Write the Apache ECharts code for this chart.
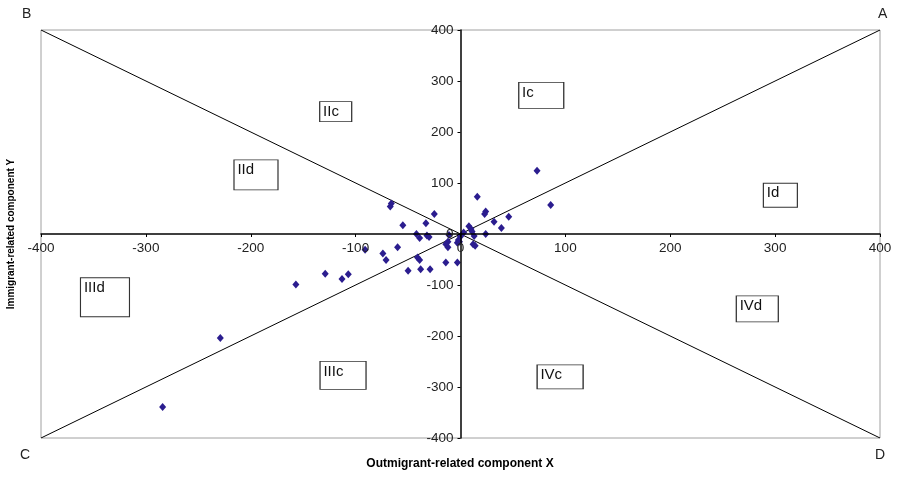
<!DOCTYPE html>
<html>
<head>
<meta charset="utf-8">
<script src="https://cdn.jsdelivr.net/npm/echarts@6/dist/echarts.min.js"></script>
<style>html,body{margin:0;padding:0;background:#fff;}#chart{width:898px;height:477px;}</style>
</head>
<body>
<div id="chart"></div>
<script>
// Data points: [X outmigrant component, Y immigrant component]
var pointsX = [73, 86, 16, 24, 23, 32, 46, 39, 24, 8, 10, 11, 3, 13, 12, 14,
  -2, -3, -1, -3, -14, -12, -14, -12, -11, 0,
  -25, -33, -42, -39, -32, -30, -55, -67, -66, -60, -74, -71, -41, -39, -50, -38, -29,
  -91, -113, -107, -129, -157, -229, -284];
var pointsY = [124, 57, 73, 44, 39, 24, 34, 12, 0, 15, 10, 5, 3, -4, -20, -23,
  -12, -17, -15, -56, -56, -15, -20, -26, -2, -5,
  39, 21, 0, -8, -3, -6, 17, 54, 60, -26, -38, -51, -46, -51, -72, -69, -69,
  -31, -88, -79, -78, -99, -204, -339];

// Diagonal reference lines (corner to corner)
var diagAX = [-400, 400], diagAY = [400, -400];
var diagBX = [-400, 400], diagBY = [-400, 400];

// Region labels and their anchor positions (data units)
var regionNames = ['IIc', 'Ic', 'IId', 'Id', 'IIId', 'IVd', 'IIIc', 'IVc'];
var regionX = [-119, 77, -195, 305, -339, 283, -112, 95];
var regionY = [240, 272, 116, 76, -124, -147, -277, -280];

var cornerLabels = ['A', 'B', 'C', 'D'];
var axisTicks = [-400, -300, -200, -100, 0, 100, 200, 300, 400];

var boxSizes = [[32, 20], [45, 26], [44, 30], [34, 24], [49, 39], [42, 26], [46, 28], [46, 24]];

var W = 898, H = 477, GL = 41, GR = 18, GT = 30, GB = 39;

var chart = echarts.init(document.getElementById('chart'), null, {renderer: 'canvas'});

var scatterData = pointsX.map(function (x, i) { return [x, pointsY[i]]; });
var boxData = regionNames.map(function (n, i) {
  return {value: [regionX[i], regionY[i]], name: n, symbolSize: boxSizes[i]};
});

var font = 'Arial, "Liberation Sans", sans-serif';

var option = {
  animation: false,
  backgroundColor: '#fff',
  grid: {left: GL, right: GR, top: GT, bottom: GB, show: true, borderColor: '#a0a0a0', borderWidth: 1, backgroundColor: 'transparent'},
  xAxis: {
    type: 'value', min: axisTicks[0], max: axisTicks[axisTicks.length - 1], interval: 100,
    position: 'bottom', offset: -(H - GT - GB) / 2, z: 10,
    axisLine: {onZero: false, lineStyle: {color: '#000', width: 1.5}},
    axisTick: {show: true, length: 3, lineStyle: {color: '#000'}},
    axisLabel: {color: '#222', fontSize: 13.5, fontFamily: font, margin: 7, showMinLabel: true, showMaxLabel: true, hideOverlap: false},
    splitLine: {show: false}
  },
  yAxis: {
    type: 'value', min: axisTicks[0], max: axisTicks[axisTicks.length - 1], interval: 100,
    position: 'left', offset: -(W - GL - GR) / 2, z: 10,
    axisLine: {onZero: false, lineStyle: {color: '#000', width: 1.5}},
    axisTick: {show: true, length: 3, lineStyle: {color: '#000'}},
    axisLabel: {color: '#222', fontSize: 13.5, fontFamily: font, margin: 7, showMinLabel: true, showMaxLabel: true, hideOverlap: false},
    splitLine: {show: false}
  },
  graphic: [
    {type: 'text', left: 22, top: 7, style: {text: cornerLabels[1], fill: '#222', font: '14px ' + font}},
    {type: 'text', left: 878, top: 7, style: {text: cornerLabels[0], fill: '#222', font: '14px ' + font}},
    {type: 'text', left: 20, top: 448, style: {text: cornerLabels[2], fill: '#222', font: '14px ' + font}},
    {type: 'text', left: 875, top: 448, style: {text: cornerLabels[3], fill: '#222', font: '14px ' + font}},
    {type: 'text', x: 460, y: 464, style: {text: 'Outmigrant-related component X', fill: '#000', font: 'bold 12px ' + font, align: 'center', verticalAlign: 'middle'}},
    {type: 'text', x: 11, y: 234, rotation: Math.PI / 2, style: {text: 'Immigrant-related component Y', fill: '#000', font: 'bold 10px ' + font, align: 'center', verticalAlign: 'middle'}}
  ],
  series: [
    {
      type: 'line', data: diagAX.map(function (x, i) { return [x, diagAY[i]]; }),
      symbol: 'none', lineStyle: {color: '#000', width: 1}, z: 1, silent: true
    },
    {
      type: 'line', data: diagBX.map(function (x, i) { return [x, diagBY[i]]; }),
      symbol: 'none', lineStyle: {color: '#000', width: 1}, z: 1, silent: true
    },
    {
      type: 'scatter', data: boxData, symbol: 'rect',
      itemStyle: {color: '#fff', borderColor: '#333', borderWidth: 1, opacity: 1},
      label: {show: true, formatter: '{b}', position: [4, 3], color: '#111', fontSize: 15, fontFamily: font},
      z: 2, silent: true
    },
    {
      type: 'scatter', data: scatterData, symbol: 'diamond', symbolSize: [7, 8],
      itemStyle: {color: '#2b1d8f', opacity: 1}, z: 3
    }
  ]
};
chart.setOption(option);
</script>
</body>
</html>
